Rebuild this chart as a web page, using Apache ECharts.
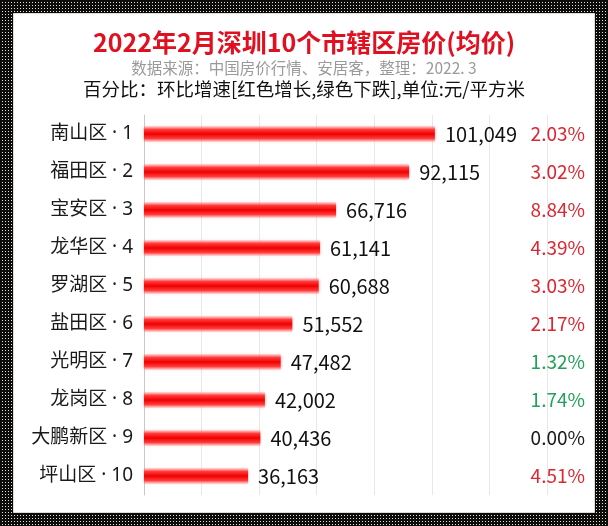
<!DOCTYPE html>
<html>
<head>
<meta charset="utf-8">
<script src="https://cdn.jsdelivr.net/npm/echarts@6/dist/echarts.min.js"></script>
<style>
html,body{margin:0;padding:0;width:608px;height:526px;overflow:hidden;}
body{
  background-color:#e6e2cc;
  background-image:
    linear-gradient(90deg,#0c0c0c 2px,transparent 2px),
    linear-gradient(#0c0c0c 2px,transparent 2px);
  background-size:3px 3px;
}
#chart{position:absolute;left:0;top:0;width:608px;height:526px;}
</style>
</head>
<body>
<div id="chart"></div>
<script>
const categories = ['南山区 · 1','福田区 · 2','宝安区 · 3','龙华区 · 4','罗湖区 · 5','盐田区 · 6','光明区 · 7','龙岗区 · 8','大鹏新区 · 9','坪山区 · 10'];
const prices = [101049, 92115, 66716, 61141, 60688, 51552, 47482, 42002, 40436, 36163];
const changes = [2.03, 3.02, 8.84, 4.39, 3.03, 2.17, 1.32, 1.74, 0.00, 4.51];
const changeColors = ['up','up','up','up','up','up','down','down','flat','up'];
const axisTicks = [0, 20000, 40000, 60000, 80000, 100000, 120000, 140000];

const FONT = '"Noto Sans CJK SC","Noto Sans",sans-serif';
const LFONT = '"Noto Sans","Noto Sans CJK SC",sans-serif';
const chart = echarts.init(document.getElementById('chart'), null, {renderer:'canvas'});

const pctLabels = changes.map((v,i) => '{' + changeColors[i] + '|' + v.toFixed(2) + '%}');

chart.setOption({
  backgroundColor:'transparent',
  animation:false,
  graphic:[{
    type:'rect', left:13, top:13, z:-10,
    shape:{width:581, height:499},
    style:{fill:'#ffffff', stroke:'#dcdcdc', lineWidth:1}
  }],
  title:[
    {text:'2022年2月深圳10个市辖区房价(均价)', left:'center', top:25,
     textStyle:{color:'#e01020', fontSize:25, fontWeight:'bold', fontFamily:FONT}},
    {text:'数据来源：中国房价行情、安居客，整理：2022. 3', left:'center', top:55,
     textStyle:{color:'#9a9a9a', fontSize:15.5, fontWeight:'normal', fontFamily:FONT}},
    {text:'百分比：环比增速[红色增长,绿色下跌],单位:元/平方米', left:'center', top:75,
     textStyle:{color:'#111', fontSize:18.5, fontWeight:'normal', fontFamily:FONT}}
  ],
  grid:{left:144, right:61, top:115, bottom:31, containLabel:false},
  xAxis:{
    type:'value', min:axisTicks[0], max:axisTicks[axisTicks.length-1], interval:axisTicks[1]-axisTicks[0],
    axisLabel:{show:false}, axisLine:{show:false}, axisTick:{show:false},
    splitLine:{show:true, lineStyle:{color:'#e8e8e8', width:1}}
  },
  yAxis:[{
    type:'category', data:categories, inverse:true,
    axisLine:{show:true, lineStyle:{color:'#c8c8c8'}}, axisTick:{show:false},
    axisLabel:{color:'#1a1a1a', fontSize:19, fontFamily:LFONT, margin:11}
  },{
    type:'category', data:pctLabels, inverse:true, position:'right',
    axisLine:{show:false}, axisTick:{show:false},
    axisLabel:{align:'right', margin:38, fontSize:19, fontFamily:FONT,
      formatter:v=>v,
      rich:{
        up:{color:'#dc2630', fontSize:19, fontFamily:FONT},
        down:{color:'#22a05a', fontSize:19, fontFamily:FONT},
        flat:{color:'#1a1a1a', fontSize:19, fontFamily:FONT}
      }}
  }],
  series:[{
    type:'bar', data:prices, barWidth:16,
    itemStyle:{
      color:new echarts.graphic.LinearGradient(0,0,0,1,[
        {offset:0, color:'rgba(255,150,150,0.25)'},
        {offset:0.22, color:'#ff3a3a'},
        {offset:0.5, color:'#f00000'},
        {offset:0.78, color:'#ff3a3a'},
        {offset:1, color:'rgba(255,150,150,0.25)'}
      ]),
      shadowBlur:3, shadowColor:'rgba(255,0,0,0.35)'
    },
    label:{show:true, position:'right', distance:10, color:'#111', fontSize:20, fontFamily:FONT,
      formatter:p=>p.value.toLocaleString('en-US')}
  }]
});
</script>
</body>
</html>
